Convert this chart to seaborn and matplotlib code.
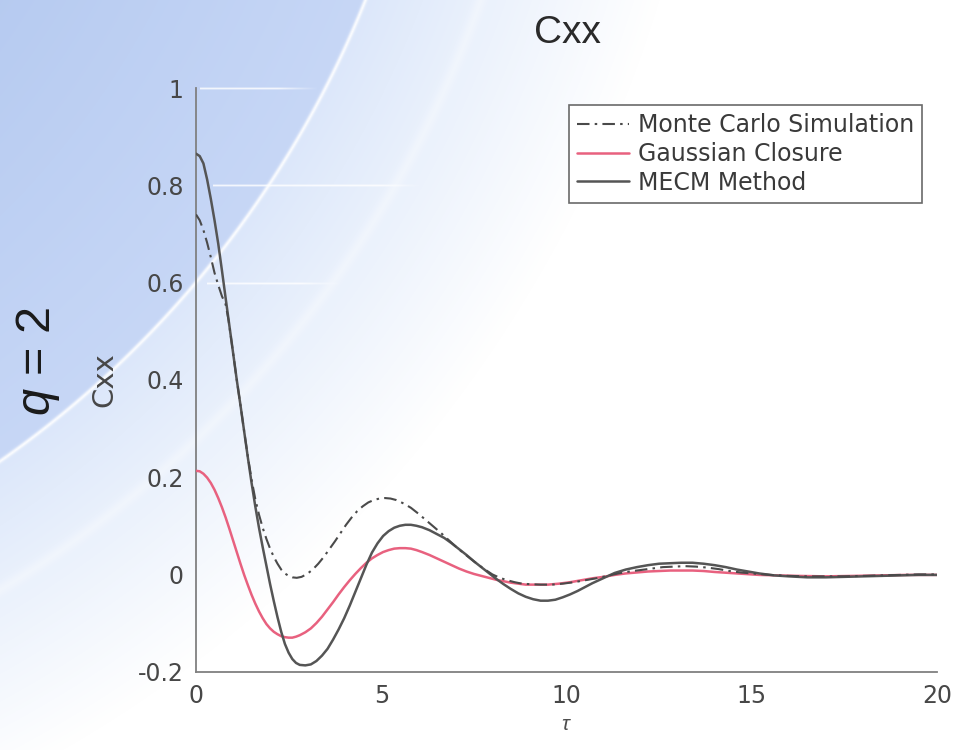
import numpy as np
import pandas as pd
import matplotlib
matplotlib.use("Agg")
import matplotlib.pyplot as plt
import seaborn as sns

# ---- data -------------------------------------------------------------
tau_mc = [0, 0.1, 0.2, 0.3, 0.4, 0.5, 0.6, 0.7, 0.8, 0.88, 1.0, 1.1, 1.2, 1.3,
          1.4, 1.5, 1.6, 1.7, 1.8, 1.9, 2.0, 2.1, 2.2, 2.3, 2.4, 2.5, 2.6, 2.72,
          2.85, 3.0, 3.15, 3.3, 3.45, 3.6, 3.75, 3.9, 4.05, 4.2, 4.35, 4.5, 4.65,
          4.8, 4.95, 5.1, 5.25, 5.4, 5.6, 5.8, 6.0, 6.2, 6.4, 6.6, 6.8, 7.0, 7.2,
          7.4, 7.6, 7.8, 8.0, 8.2, 8.4, 8.6, 8.8, 9.0, 9.3, 9.6, 9.9, 10.2, 10.5,
          10.8, 11.1, 11.4, 11.7, 12.0, 12.3, 12.6, 12.9, 13.2, 13.5, 13.8, 14.1,
          14.4, 14.7, 15.0, 15.5, 16.0, 16.5, 17.0, 17.5, 18.0, 18.5, 19.0, 19.5,
          20.0]
cxx_mc = [0.740, 0.728, 0.708, 0.682, 0.652, 0.620, 0.595, 0.572, 0.555, 0.522,
          0.456, 0.400, 0.348, 0.294, 0.242, 0.195, 0.155, 0.123, 0.096, 0.073,
          0.053, 0.036, 0.022, 0.010, 0.002, -0.003, -0.006, -0.007, -0.005,
          0.001, 0.010, 0.022, 0.036, 0.052, 0.068, 0.085, 0.102, 0.117, 0.130,
          0.140, 0.148, 0.153, 0.156, 0.157, 0.156, 0.153, 0.146, 0.137, 0.125,
          0.112, 0.099, 0.086, 0.072, 0.058, 0.045, 0.033, 0.021, 0.010, 0.000,
          -0.007, -0.012, -0.016, -0.019, -0.020, -0.021, -0.021, -0.019, -0.016,
          -0.012, -0.008, -0.003, 0.002, 0.006, 0.009, 0.012, 0.015, 0.016, 0.017,
          0.016, 0.014, 0.011, 0.007, 0.004, 0.002, -0.001, -0.003, -0.004,
          -0.004, -0.004, -0.003, -0.002, -0.001, 0.000, 0.000]

tau_gc = [0, 0.1, 0.2, 0.3, 0.4, 0.5, 0.6, 0.7, 0.8, 0.9, 1.0, 1.1, 1.2, 1.3,
          1.4, 1.5, 1.6, 1.7, 1.8, 1.9, 2.0, 2.1, 2.2, 2.3, 2.4, 2.5, 2.6, 2.7,
          2.8, 2.95, 3.1, 3.25, 3.4, 3.55, 3.7, 3.85, 4.0, 4.15, 4.3, 4.45, 4.6,
          4.75, 4.9, 5.05, 5.2, 5.35, 5.5, 5.65, 5.8, 5.95, 6.1, 6.3, 6.5, 6.7,
          6.9, 7.1, 7.3, 7.5, 7.7, 7.9, 8.1, 8.3, 8.5, 8.7, 8.9, 9.1, 9.3, 9.5,
          9.8, 10.1, 10.4, 10.7, 11.0, 11.3, 11.6, 11.9, 12.2, 12.5, 12.8, 13.1,
          13.4, 13.7, 14.0, 14.4, 14.8, 15.2, 15.7, 16.2, 17.0, 17.8, 18.5, 19.2,
          20.0]
cxx_gc = [0.213, 0.212, 0.207, 0.199, 0.188, 0.174, 0.157, 0.138, 0.117, 0.094,
          0.070, 0.046, 0.022, -0.001, -0.022, -0.042, -0.060, -0.076, -0.090,
          -0.102, -0.111, -0.118, -0.123, -0.127, -0.129, -0.130, -0.130, -0.128,
          -0.125, -0.119, -0.111, -0.100, -0.087, -0.072, -0.057, -0.041, -0.026,
          -0.012, 0.001, 0.013, 0.024, 0.033, 0.040, 0.046, 0.050, 0.053, 0.054,
          0.054, 0.053, 0.050, 0.046, 0.040, 0.033, 0.026, 0.019, 0.012, 0.006,
          0.001, -0.003, -0.007, -0.011, -0.014, -0.017, -0.019, -0.021, -0.021,
          -0.021, -0.021, -0.019, -0.016, -0.012, -0.008, -0.005, -0.001, 0.002,
          0.004, 0.006, 0.007, 0.008, 0.008, 0.008, 0.007, 0.005, 0.003, 0.001,
          -0.001, -0.002, -0.003, -0.004, -0.003, -0.002, -0.001, -0.001]

tau_mecm = [0, 0.1, 0.2, 0.3, 0.4, 0.5, 0.6, 0.7, 0.8, 0.9, 1.0, 1.1, 1.2, 1.3,
            1.4, 1.5, 1.6, 1.7, 1.8, 1.9, 2.0, 2.1, 2.2, 2.3, 2.4, 2.5, 2.6, 2.7,
            2.8, 2.95, 3.1, 3.25, 3.4, 3.55, 3.7, 3.85, 4.0, 4.15, 4.3, 4.45, 4.6,
            4.75, 4.9, 5.05, 5.2, 5.35, 5.5, 5.65, 5.8, 5.95, 6.1, 6.3, 6.5, 6.7,
            6.9, 7.1, 7.3, 7.5, 7.7, 7.9, 8.1, 8.3, 8.5, 8.7, 8.9, 9.1, 9.3, 9.5,
            9.7, 9.9, 10.1, 10.3, 10.5, 10.7, 10.9, 11.1, 11.3, 11.6, 11.9, 12.2,
            12.5, 12.8, 13.1, 13.4, 13.7, 14.0, 14.3, 14.6, 14.9, 15.2, 15.6, 16.0,
            16.5, 17.0, 17.5, 18.0, 18.5, 19.0, 19.5, 20.0]
cxx_mecm = [0.865, 0.860, 0.845, 0.812, 0.772, 0.728, 0.680, 0.625, 0.568, 0.512,
            0.456, 0.400, 0.348, 0.294, 0.240, 0.188, 0.140, 0.096, 0.056, 0.018,
            -0.020, -0.055, -0.088, -0.118, -0.143, -0.161, -0.174, -0.182,
            -0.186, -0.187, -0.185, -0.178, -0.167, -0.153, -0.134, -0.113,
            -0.090, -0.064, -0.036, -0.008, 0.020, 0.045, 0.064, 0.079, 0.089,
            0.096, 0.100, 0.102, 0.102, 0.100, 0.097, 0.091, 0.083, 0.075, 0.064,
            0.052, 0.040, 0.027, 0.015, 0.003, -0.009, -0.020, -0.030, -0.039,
            -0.046, -0.051, -0.054, -0.054, -0.052, -0.047, -0.041, -0.034,
            -0.026, -0.018, -0.011, -0.004, 0.003, 0.010, 0.015, 0.019, 0.022,
            0.023, 0.024, 0.024, 0.022, 0.019, 0.015, 0.010, 0.006, 0.002, -0.002,
            -0.004, -0.006, -0.006, -0.005, -0.004, -0.003, -0.002, -0.001, -0.001]

series_names = ["Monte Carlo Simulation", "Gaussian Closure", "MECM Method"]
x_ticks = [0, 5, 10, 15, 20]
x_tick_labels = ["0", "5", "10", "15", "20"]
y_ticks = [-0.2, 0, 0.2, 0.4, 0.6, 0.8, 1.0]
y_tick_labels = ["-0.2", "0", "0.2", "0.4", "0.6", "0.8", "1"]

# ---- style ------------------------------------------------------------
sns.set_theme(style="white")
plt.rcParams["font.family"] = ["DejaVu Sans"]
plt.rcParams["mathtext.fontset"] = "custom"
plt.rcParams["mathtext.rm"] = "Liberation Sans"
plt.rcParams["mathtext.it"] = "Liberation Sans:italic"

W, H = 958, 750
fig = plt.figure(figsize=(W / 100, H / 100), dpi=100)

# ---- slide backdrop: blue sweep with white arcs -----------------------
yy, xx = np.mgrid[0:H, 0:W].astype(float)
cx, cy = -589.0, -381.0
d = np.hypot(xx - cx, yy - cy)
r1, r2 = 1027.0, 1135.0
deep = np.array([180, 201, 240]) / 255
mid = np.array([199, 215, 246]) / 255
band0 = np.array([220, 231, 250]) / 255
band1 = np.array([234, 241, 252]) / 255
white = np.array([1.0, 1.0, 1.0])

t_in = np.clip((d - 650) / (r1 - 650), 0, 1)[..., None]
inside = deep * (1 - t_in) + mid * t_in
t_band = np.clip((d - r1) / (r2 - r1), 0, 1)[..., None]
band = band0 * (1 - t_band) + band1 * t_band
t_out = np.clip((d - r2) / 170, 0, 1)[..., None]
outer = band1 * (1 - t_out) + white * t_out
img = np.where((d < r1)[..., None], inside, np.where((d < r2)[..., None], band, outer))
# bright arc edges
glow1 = np.exp(-((d - r1) / 2.0) ** 2)[..., None] * 0.85
glow2 = np.exp(-((d - r2) / 6.0) ** 2)[..., None] * 0.3
img = img * (1 - glow1) + white * glow1
img = img * (1 - glow2) + white * glow2
# faint horizontal streaks
for row, x0, x1 in [(88, 200, 317), (185, 213, 420), (283, 207, 340)]:
    seg = np.zeros(W)
    seg[x0:x1] = 1.0
    fade = np.clip((x1 - np.arange(W)) / 40, 0, 1)
    seg = seg * fade * 0.8
    for dr, a in [(-1, 0.4), (0, 1.0), (1, 0.4)]:
        img[row + dr] = img[row + dr] * (1 - (seg * a)[:, None]) + (seg * a)[:, None]

bg = fig.add_axes([0, 0, 1, 1], zorder=-1)
bg.imshow(np.clip(img, 0, 1), aspect="auto", extent=(0, W, H, 0))
bg.set_xlim(0, W)
bg.set_ylim(H, 0)
bg.axis("off")

# ---- main axes ----------------------------------------------------------
ax = fig.add_axes([196 / W, 1 - 671.7 / H, (937 - 196) / W, (671.7 - 88) / H])
ax.patch.set_alpha(0)

df_mc = pd.DataFrame({"tau": tau_mc, "Cxx": cxx_mc})
df_gc = pd.DataFrame({"tau": tau_gc, "Cxx": cxx_gc})
df_mecm = pd.DataFrame({"tau": tau_mecm, "Cxx": cxx_mecm})

sns.lineplot(data=df_mc, x="tau", y="Cxx", ax=ax, color="#4a4a4a", lw=1.5,
             linestyle=(0, (6, 2.5, 1.2, 2.5)), label=series_names[0], sort=False,
             estimator=None, zorder=4)
sns.lineplot(data=df_gc, x="tau", y="Cxx", ax=ax, color="#e8617f", lw=1.8,
             label=series_names[1], sort=False, estimator=None, zorder=3)
sns.lineplot(data=df_mecm, x="tau", y="Cxx", ax=ax, color="#555555", lw=1.8,
             label=series_names[2], sort=False, estimator=None, zorder=3)

ax.set_xlim(0, 20)
ax.set_ylim(-0.2, 1.0)
ax.set_xticks(x_ticks)
ax.set_xticklabels(x_tick_labels)
ax.set_yticks(y_ticks)
ax.set_yticklabels(y_tick_labels)
for side in ["top", "right"]:
    ax.spines[side].set_visible(False)
for side in ["left", "bottom"]:
    ax.spines[side].set_color("#808080")
    ax.spines[side].set_linewidth(1.3)
ax.tick_params(direction="in", length=5, width=1.1, color="#808080",
               labelsize=17, labelcolor="#474747", pad=9)
ax.set_xlabel(r"$\tau$", fontsize=15, color="#4d4d4d", labelpad=4)
ax.set_ylabel("Cxx", fontsize=21, color="#474747", labelpad=14)

leg = ax.legend(loc="upper right", bbox_to_anchor=(0.98, 0.971), borderaxespad=0,
                fontsize=17, frameon=True, fancybox=False, framealpha=1,
                handlelength=2.2, handletextpad=0.35, labelspacing=0.2,
                borderpad=0.35)
leg.get_frame().set_edgecolor("#6a6a6a")
leg.get_frame().set_linewidth(1.2)
for txt in leg.get_texts():
    txt.set_color("#3a3a3a")

# ---- slide annotations --------------------------------------------------
fig.text(568 / W, 1 - 33 / H, "Cxx", fontsize=28, color="#2a2a2a",
         family="Liberation Sans", ha="center", va="center")
fig.text(38 / W, 1 - 361 / H, "$q$ = 2", fontsize=35, color="#1a1a1a",
         family="Liberation Sans", rotation=90, ha="center", va="center")

fig.savefig("out.png", dpi=100)
